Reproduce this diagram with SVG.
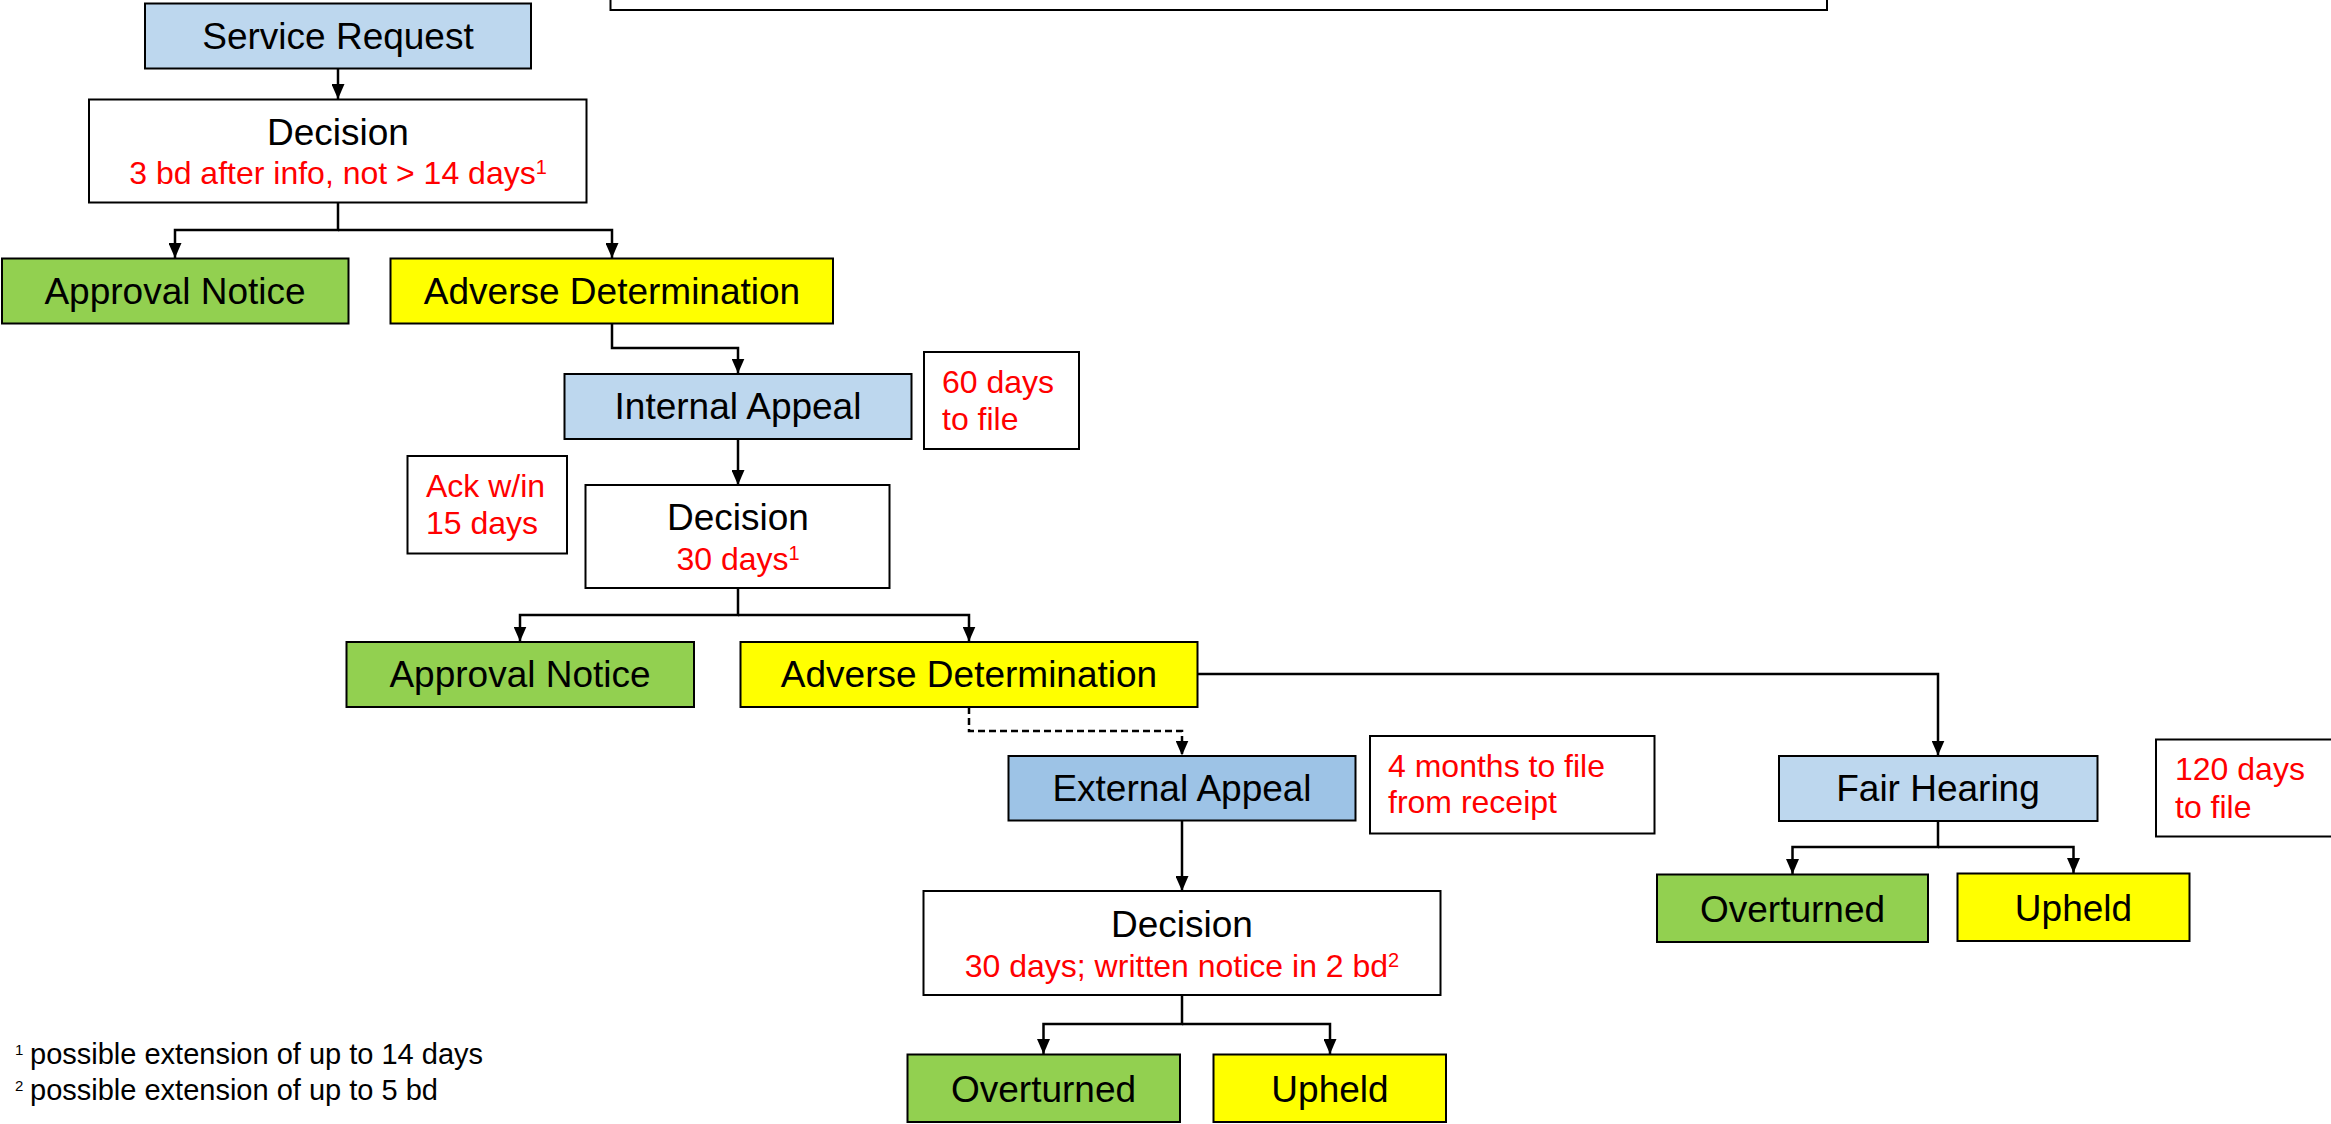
<svg xmlns="http://www.w3.org/2000/svg" width="2331" height="1124" viewBox="0 0 2331 1124">
<style>
  .box { stroke: #000; stroke-width: 2; }
  .blue { fill: #BDD7EE; }
  .blue2 { fill: #9DC3E6; }
  .green { fill: #92D050; }
  .yellow { fill: #FFFF00; }
  .white { fill: #FFFFFF; }
  .lbl { font-family: "Liberation Sans", Arial, sans-serif; font-size: 37px; fill: #000; text-anchor: middle; }
  .red { font-family: "Liberation Sans", Arial, sans-serif; font-size: 32px; fill: #FF0000; }
  .redc { text-anchor: middle; }
  .sup { font-size: 20px; }
  .foot { font-family: "Liberation Sans", Arial, sans-serif; font-size: 29px; fill: #000; }
  .fsup { font-size: 15px; }
  .conn { fill: none; stroke: #000; stroke-width: 2.5; }
  .dash { stroke-dasharray: 7 4; }
</style>
<defs>
  <marker id="arrow" viewBox="0 0 15 13" refX="15" refY="6.5" markerWidth="15" markerHeight="13" markerUnits="userSpaceOnUse" orient="auto">
    <path d="M0,0 L15,6.5 L0,13 z" fill="#000"/>
  </marker>
</defs>
<rect width="2331" height="1124" fill="#FFFFFF"/>

<g id="top-box"><rect class="box white" x="610.5" y="-20" width="1216.5" height="30"/></g>

<g id="connectors">
  <path class="conn" d="M338,68 V99" marker-end="url(#arrow)"/>
  <path class="conn" d="M338,203 V230 H175 V258" marker-end="url(#arrow)"/>
  <path class="conn" d="M338,230 H612 V258" marker-end="url(#arrow)"/>
  <path class="conn" d="M612,323 V348 H738 V373.5" marker-end="url(#arrow)"/>
  <path class="conn" d="M738,439 V485" marker-end="url(#arrow)"/>
  <path class="conn" d="M738,588 V615 H520 V641.5" marker-end="url(#arrow)"/>
  <path class="conn" d="M738,615 H969 V641.5" marker-end="url(#arrow)"/>
  <path class="conn" d="M1197,674 H1938 V755.5" marker-end="url(#arrow)"/>
  <path class="conn dash" d="M969,707 V731 H1182 V755.5" marker-end="url(#arrow)"/>
  <path class="conn" d="M1182,820 V891" marker-end="url(#arrow)"/>
  <path class="conn" d="M1182,995 V1024 H1043.5 V1054" marker-end="url(#arrow)"/>
  <path class="conn" d="M1182,1024 H1330 V1054" marker-end="url(#arrow)"/>
  <path class="conn" d="M1938,821 V847 H1792.5 V874" marker-end="url(#arrow)"/>
  <path class="conn" d="M1938,847 H2073.5 V873" marker-end="url(#arrow)"/>
</g>

<g id="service-request">
  <rect class="box blue" x="145" y="3.5" width="386" height="65"/>
  <text class="lbl" x="338" y="49">Service Request</text>
</g>
<g id="decision-1">
  <rect class="box white" x="89" y="99.5" width="497.5" height="103"/>
  <text class="lbl" x="338" y="145">Decision</text>
  <text class="red redc" x="338" y="184">3 bd after info, not &gt; 14 days<tspan class="sup" dy="-10">1</tspan></text>
</g>
<g id="approval-notice-1">
  <rect class="box green" x="2" y="258.5" width="346.5" height="65"/>
  <text class="lbl" x="175" y="304">Approval Notice</text>
</g>
<g id="adverse-determination-1">
  <rect class="box yellow" x="390.5" y="258.5" width="442.5" height="65"/>
  <text class="lbl" x="612" y="304">Adverse Determination</text>
</g>
<g id="internal-appeal">
  <rect class="box blue" x="564.5" y="374" width="347" height="65"/>
  <text class="lbl" x="738" y="419">Internal Appeal</text>
</g>
<g id="note-60-days">
  <rect class="box white" x="924" y="352" width="155" height="97"/>
  <text class="red" x="942" y="393">60 days</text>
  <text class="red" x="942" y="430">to file</text>
</g>
<g id="note-ack">
  <rect class="box white" x="407.5" y="456" width="159.5" height="97.5"/>
  <text class="red" x="426" y="497">Ack w/in</text>
  <text class="red" x="426" y="534">15 days</text>
</g>
<g id="decision-2">
  <rect class="box white" x="585.5" y="485" width="304" height="103"/>
  <text class="lbl" x="738" y="530">Decision</text>
  <text class="red redc" x="738" y="570">30 days<tspan class="sup" dy="-10">1</tspan></text>
</g>
<g id="approval-notice-2">
  <rect class="box green" x="346.5" y="642" width="347.5" height="65"/>
  <text class="lbl" x="520" y="687">Approval Notice</text>
</g>
<g id="adverse-determination-2">
  <rect class="box yellow" x="740.5" y="642" width="457" height="65"/>
  <text class="lbl" x="969" y="687">Adverse Determination</text>
</g>
<g id="external-appeal">
  <rect class="box blue2" x="1008.5" y="756" width="347" height="64.5"/>
  <text class="lbl" x="1182" y="801">External Appeal</text>
</g>
<g id="note-4-months">
  <rect class="box white" x="1370" y="736" width="284.5" height="97.5"/>
  <text class="red" x="1388" y="777">4 months to file</text>
  <text class="red" x="1388" y="813">from receipt</text>
</g>
<g id="fair-hearing">
  <rect class="box blue" x="1779" y="756" width="318.5" height="65"/>
  <text class="lbl" x="1938" y="801">Fair Hearing</text>
</g>
<g id="note-120-days">
  <rect class="box white" x="2156" y="739.5" width="185" height="97"/>
  <text class="red" x="2175" y="780">120 days</text>
  <text class="red" x="2175" y="818">to file</text>
</g>
<g id="overturned-fh">
  <rect class="box green" x="1657" y="874.5" width="271" height="67.5"/>
  <text class="lbl" x="1792.5" y="921.5">Overturned</text>
</g>
<g id="upheld-fh">
  <rect class="box yellow" x="1957.5" y="873.5" width="232" height="67.5"/>
  <text class="lbl" x="2073.5" y="921">Upheld</text>
</g>
<g id="decision-3">
  <rect class="box white" x="923.5" y="891" width="517" height="104"/>
  <text class="lbl" x="1182" y="937">Decision</text>
  <text class="red redc" x="1182" y="977">30 days; written notice in 2 bd<tspan class="sup" dy="-10">2</tspan></text>
</g>
<g id="overturned-ea">
  <rect class="box green" x="907.5" y="1054.5" width="272.5" height="67.5"/>
  <text class="lbl" x="1043.5" y="1101.5">Overturned</text>
</g>
<g id="upheld-ea">
  <rect class="box yellow" x="1213.5" y="1054.5" width="232.5" height="67.5"/>
  <text class="lbl" x="1330" y="1101.5">Upheld</text>
</g>

<g id="footnotes">
  <text class="foot fsup" x="15" y="1055">1</text>
  <text class="foot" x="30" y="1064">possible extension of up to 14 days</text>
  <text class="foot fsup" x="15" y="1091">2</text>
  <text class="foot" x="30" y="1100">possible extension of up to 5 bd</text>
</g>
</svg>
